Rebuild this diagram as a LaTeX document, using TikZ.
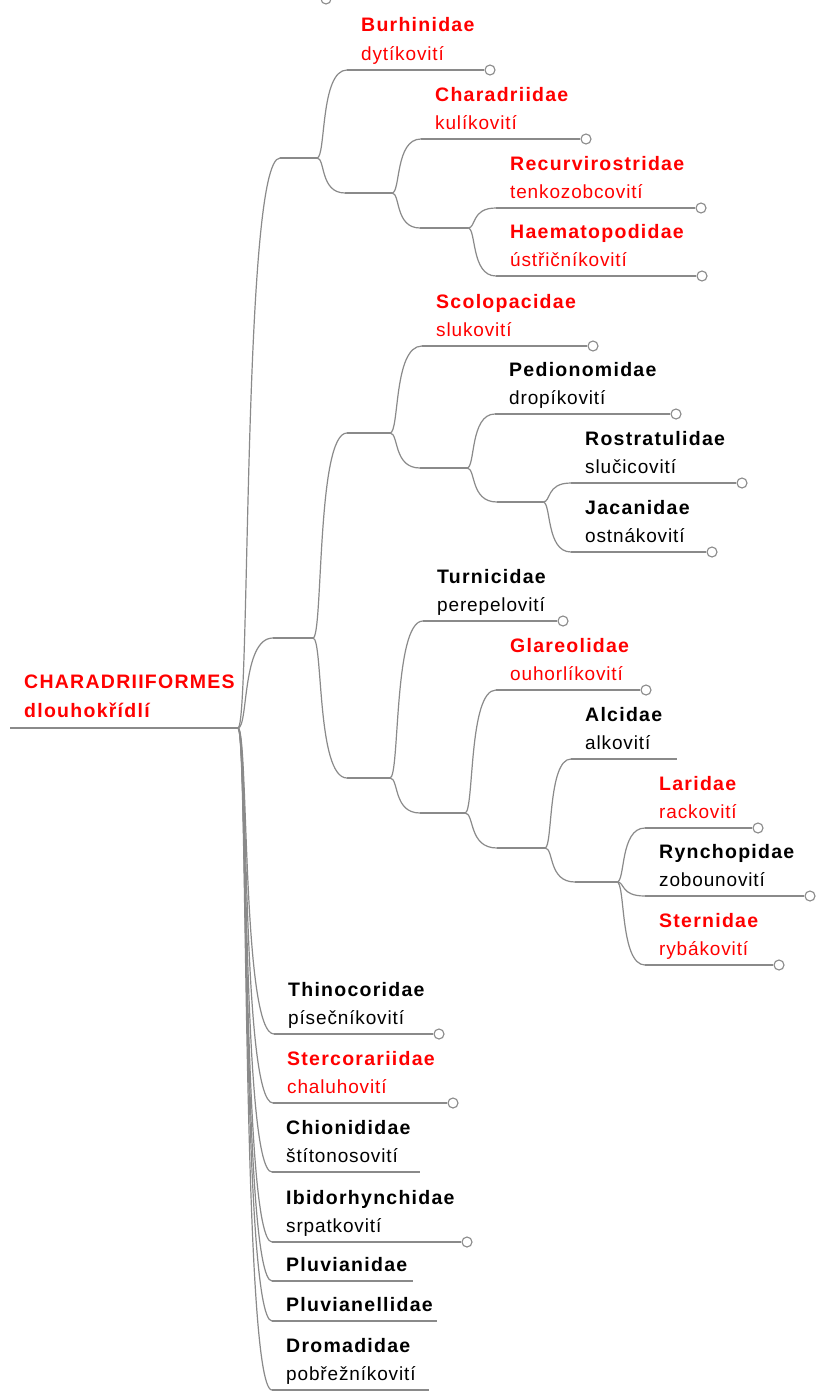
\documentclass[tikz,border=0pt]{standalone}
\usepackage{fontspec}
\setmainfont{Liberation Sans}[LetterSpace=4.5,BoldFeatures={LetterSpace=6.5}]
\usetikzlibrary{calc}
\definecolor{edgecol}{HTML}{8A8A8A}
\definecolor{cred}{HTML}{FF0000}
\definecolor{cblack}{HTML}{000000}
\tikzset{
  edge/.style={draw=edgecol,line width=1.2pt},
  knob/.style={circle,draw=edgecol,fill=white,line width=1.1pt,inner sep=0pt,minimum size=10pt},
  famname/.style={anchor=base west,inner sep=0pt,font=\fontsize{19.5}{23}\selectfont\bfseries},
  famdesc/.style={anchor=base west,inner sep=0pt,font=\fontsize{19}{23}\selectfont}
}
\newcommand\conn[2]{\draw[edge] (#1) .. controls ($(#1)!0.3!(#1-|#2)$) and ($(#2-|#1)!0.1!(#2)$) .. (#2);}
\newcommand\branchto[3]{\conn{#1}{#2}\draw[edge] (#2) -- (#3);}
% id, parent, textx, liney, endx, colour, name, desc
\newcommand\famleaf[8]{%
  \coordinate (#1s) at (#3-14,#4);
  \node[famname,text=#6] (#1n) at (#3,#4-38) {#7};
  \node[famdesc,text=#6] (#1d) at (#3,#4-10) {#8};
  \conn{#2}{#1s}
  \node[knob] (#1c) at (#5,#4) {};
  \draw[edge] (#1s) -- (#1c);
}
\newcommand\famleafopen[8]{%
  \coordinate (#1s) at (#3-14,#4);
  \coordinate (#1e) at (#5,#4);
  \node[famname,text=#6] (#1n) at (#3,#4-38) {#7};
  \node[famdesc,text=#6] (#1d) at (#3,#4-10) {#8};
  \conn{#2}{#1s}
  \draw[edge] (#1s) -- (#1e);
}
\begin{document}
\begin{tikzpicture}[x=1pt,y=-1pt]
\useasboundingbox (0,0) rectangle (818,1397);
\fill[white] (0,0) rectangle (818,1397);
\clip (0,0) rectangle (818,1397);

\node[knob] (topknob) at (326,-1) {};

% root
\coordinate (rootL) at (10,728);
\coordinate (rootJ) at (238,728);
\draw[edge] (rootL) -- (rootJ);
\node[famname,text=cred] (rootN) at (24,688) {CHARADRIIFORMES};
\node[famname,text=cred] (rootD) at (24,717) {dlouhokřídlí};

% internal junctions
\coordinate (jA) at (317,158);   \coordinate (aS) at (280,158);
\coordinate (jX4) at (392,193);  \coordinate (x4S) at (345,193);
\coordinate (jX5) at (468,228);  \coordinate (x5S) at (420,228);
\coordinate (jX2) at (313,638);  \coordinate (x2S) at (273,638);
\coordinate (jX3) at (390,433);  \coordinate (x3S) at (347,433);
\coordinate (jX6) at (467,468);  \coordinate (x6S) at (420,468);
\coordinate (jX7) at (543,502);  \coordinate (x7S) at (497,502);
\coordinate (jX8) at (390,778);  \coordinate (x8S) at (347,778);
\coordinate (jX9) at (465,813);  \coordinate (x9S) at (420,813);
\coordinate (jX10) at (545,848); \coordinate (x10S) at (497,848);
\coordinate (jX11) at (617,882); \coordinate (x11S) at (575,882);

\branchto{rootJ}{aS}{jA}
\branchto{jA}{x4S}{jX4}
\branchto{jX4}{x5S}{jX5}
\branchto{rootJ}{x2S}{jX2}
\branchto{jX2}{x3S}{jX3}
\branchto{jX3}{x6S}{jX6}
\branchto{jX6}{x7S}{jX7}
\branchto{jX2}{x8S}{jX8}
\branchto{jX8}{x9S}{jX9}
\branchto{jX9}{x10S}{jX10}
\branchto{jX10}{x11S}{jX11}

% leaves
\famleaf{bur}{jA}{361}{70}{490}{cred}{Burhinidae}{dytíkovití}
\famleaf{cha}{jX4}{435}{139}{586}{cred}{Charadriidae}{kulíkovití}
\famleaf{rec}{jX5}{510}{208}{701}{cred}{Recurvirostridae}{tenkozobcovití}
\famleaf{hae}{jX5}{510}{276}{702}{cred}{Haematopodidae}{ústřičníkovití}
\famleaf{sco}{jX3}{436}{346}{593}{cred}{Scolopacidae}{slukovití}
\famleaf{ped}{jX6}{509}{414}{676}{cblack}{Pedionomidae}{dropíkovití}
\famleaf{ros}{jX7}{585}{483}{742}{cblack}{Rostratulidae}{slučicovití}
\famleaf{jac}{jX7}{585}{552}{712}{cblack}{Jacanidae}{ostnákovití}
\famleaf{tur}{jX8}{437}{621}{563}{cblack}{Turnicidae}{perepelovití}
\famleaf{gla}{jX9}{510}{690}{646}{cred}{Glareolidae}{ouhorlíkovití}
\famleafopen{alc}{jX10}{585}{759}{677}{cblack}{Alcidae}{alkovití}
\famleaf{lar}{jX11}{659}{828}{758}{cred}{Laridae}{rackovití}
\famleaf{ryn}{jX11}{659}{896}{810}{cblack}{Rynchopidae}{zobounovití}
\famleaf{ste}{jX11}{659}{965}{779}{cred}{Sternidae}{rybákovití}

\famleaf{thi}{rootJ}{288}{1034}{439}{cblack}{Thinocoridae}{písečníkovití}
\famleaf{stc}{rootJ}{287}{1103}{453}{cred}{Stercorariidae}{chaluhovití}
\famleafopen{chi}{rootJ}{286}{1172}{420}{cblack}{Chionididae}{štítonosovití}
\famleaf{ibi}{rootJ}{286}{1242}{467}{cblack}{Ibidorhynchidae}{srpatkovití}
\coordinate (pluS) at (272,1281); \coordinate (pluE) at (413,1281);
\node[famname,text=cblack] (pluN) at (286,1271) {Pluvianidae};
\conn{rootJ}{pluS} \draw[edge] (pluS) -- (pluE);
\coordinate (pllS) at (272,1321); \coordinate (pllE) at (437,1321);
\node[famname,text=cblack] (pllN) at (286,1311) {Pluvianellidae};
\conn{rootJ}{pllS} \draw[edge] (pllS) -- (pllE);
\famleafopen{dro}{rootJ}{286}{1390}{429}{cblack}{Dromadidae}{pobřežníkovití}
\end{tikzpicture}
\end{document}
